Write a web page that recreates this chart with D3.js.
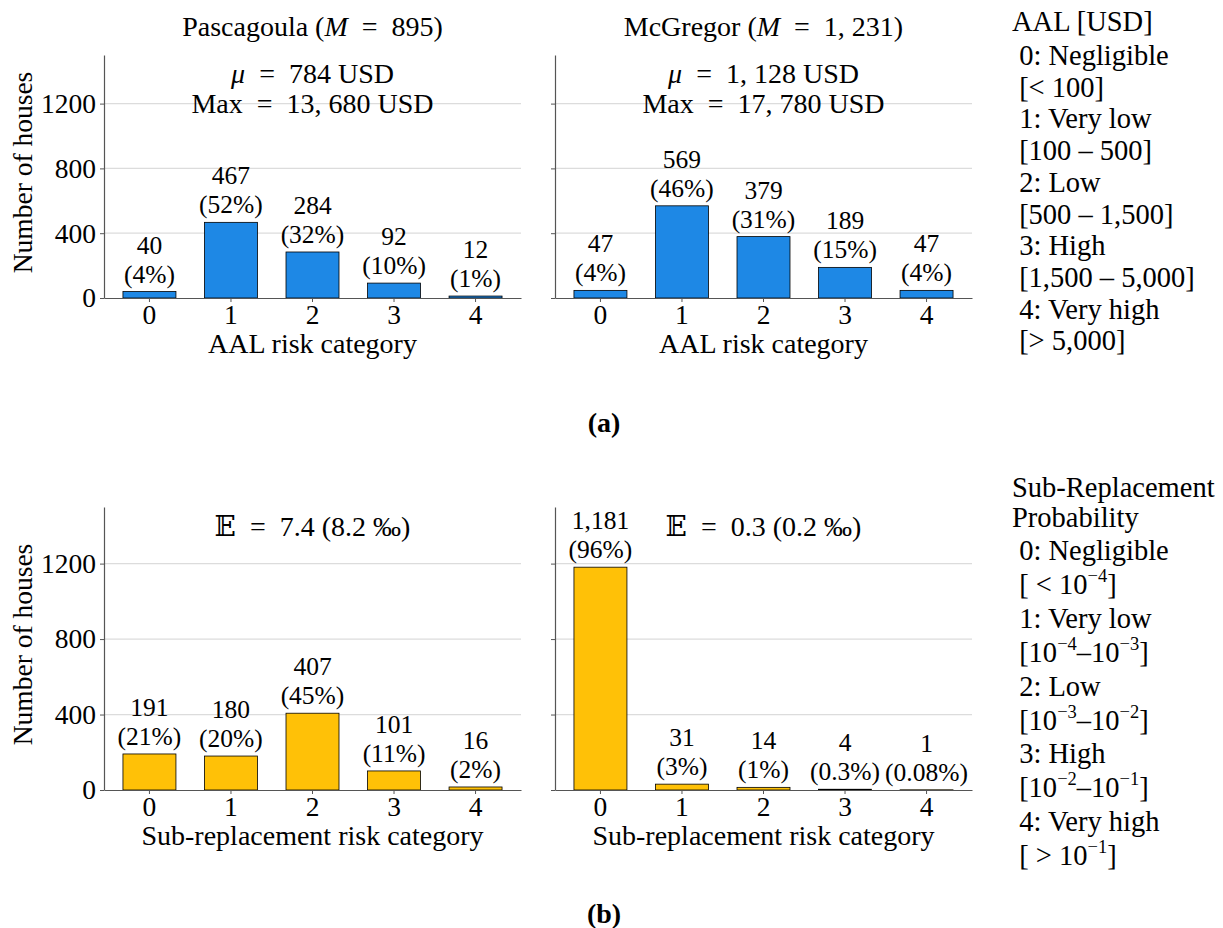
<!DOCTYPE html>
<html>
<head>
	<meta charset="utf-8">
	<title>AAL and sub-replacement risk categories</title>
	<script src="https://d3js.org/d3.v7.min.js"></script>
	<style>
		body { margin: 0; background: #fff; }
		text { font-family: "Liberation Serif", "DejaVu Serif", serif; fill: #000; }
	</style>
</head>
<body>
	<svg width="1223" height="928" id="chart"></svg>
<script>
	// values
	var categories = [0, 1, 2, 3, 4]
	var yTicks = [0, 400, 800, 1200]
	var aalPascagoula = [40, 467, 284, 92, 12]
	var aalPascagoulaPct = ["4%", "52%", "32%", "10%", "1%"]
	var aalMcGregor = [47, 569, 379, 189, 47]
	var aalMcGregorPct = ["4%", "46%", "31%", "15%", "4%"]
	var subPascagoula = [191, 180, 407, 101, 16]
	var subPascagoulaPct = ["21%", "20%", "45%", "11%", "2%"]
	var subMcGregor = [1181, 31, 14, 4, 1]
	var subMcGregorPct = ["96%", "3%", "1%", "0.3%", "0.08%"]

	var aalLegend = [
		[["AAL [USD]"]],
		[[" 0: Negligible"]], [[" [< 100]"]],
		[[" 1: Very low"]], [[" [100 – 500]"]],
		[[" 2: Low"]], [[" [500 – 1,500]"]],
		[[" 3: High"]], [[" [1,500 – 5,000]"]],
		[[" 4: Very high"]], [[" [> 5,000]"]]
	]
	var subLegend = [
		[["Sub-Replacement"]], [["Probability"]],
		[[" 0: Negligible"]], [[" [ < 10"], ["−4", "s"], ["]"]],
		[[" 1: Very low"]], [[" [10"], ["−4", "s"], ["–10"], ["−3", "s"], ["]"]],
		[[" 2: Low"]], [[" [10"], ["−3", "s"], ["–10"], ["−2", "s"], ["]"]],
		[[" 3: High"]], [[" [10"], ["−2", "s"], ["–10"], ["−1", "s"], ["]"]],
		[[" 4: Very high"]], [[" [ > 10"], ["−1", "s"], ["]"]]
	]

	var svg = d3.select("#chart")
	var fs = 27.5      // ticks, y label
	var fsX = 28       // x labels
	var fsBar = 25.5   // bar annotations
	var fsMath = 28    // titles and notes
	var eq = "\u2002=\u2002"

	// text made of plain / italic / superscript / bold pieces
	function rich(sel, x, y, parts, anchor, size) {
		var t = sel.append("text")
			.attr("x", x).attr("y", y)
			.attr("text-anchor", anchor || "middle")
			.attr("font-size", size || fs)
			.attr("xml:space", "preserve")
		var shift = 0
		parts.forEach(function(p) {
			var s = t.append("tspan").text(p[0])
			var target = p[1] === "s" ? -12 : 0
			if (target !== shift) s.attr("dy", target - shift)
			shift = target
			if (p[1] === "s") s.attr("font-size", 18.5)
			if (p[1] === "i") s.attr("font-style", "italic")
			if (p[1] === "b") s.attr("font-weight", "bold")
		})
		return t
	}

	var cols = [{x0: 104, x1: 521}, {x0: 555, x1: 972}]
	var rows = [{y0: 55, y1: 298}, {y0: 507, y1: 790}]

	var panels = [
		{data: aalPascagoula, pct: aalPascagoulaPct, col: 0, row: 0, color: "#1e88e5", xlabel: "AAL risk category", sep: ""},
		{data: aalMcGregor, pct: aalMcGregorPct, col: 1, row: 0, color: "#1e88e5", xlabel: "AAL risk category", sep: ""},
		{data: subPascagoula, pct: subPascagoulaPct, col: 0, row: 1, color: "#ffc107", xlabel: "Sub-replacement risk category", sep: ","},
		{data: subMcGregor, pct: subMcGregorPct, col: 1, row: 1, color: "#ffc107", xlabel: "Sub-replacement risk category", sep: ","}
	]

	panels.forEach(function(p) {
		var c = cols[p.col], r = rows[p.row]
		var x = d3.scaleBand().domain(categories).range([c.x0, c.x1])
			.paddingInner(0.35).paddingOuter(0.2325)
		var y = d3.scaleLinear().domain([0, 1500]).range([r.y1, r.y0])
		var g = svg.append("g")

		// grid
		g.selectAll(".grid").data(yTicks.filter(function(d) { return d > 0 }))
			.enter().append("line")
			.attr("x1", c.x0).attr("x2", c.x1)
			.attr("y1", function(d) { return y(d) }).attr("y2", function(d) { return y(d) })
			.attr("stroke", "#dcdcdc").attr("stroke-width", 1.2)

		// bars
		g.selectAll("rect").data(p.data).enter().append("rect")
			.attr("x", function(d, i) { return x(categories[i]) })
			.attr("width", x.bandwidth())
			.attr("y", function(d) { return y(d) })
			.attr("height", function(d) { return y(0) - y(d) })
			.attr("fill", p.color)
			.attr("stroke", "#000").attr("stroke-width", 0.8)

		// bar labels
		var fmt = p.sep ? d3.format(",") : function(v) { return String(v) }
		p.data.forEach(function(d, i) {
			var cx = x(categories[i]) + x.bandwidth() / 2
			g.append("text").attr("x", cx).attr("y", y(d) - 38)
				.attr("text-anchor", "middle").attr("font-size", fsBar).text(fmt(d))
			g.append("text").attr("x", cx).attr("y", y(d) - 9)
				.attr("text-anchor", "middle").attr("font-size", fsBar).text("(" + p.pct[i] + ")")
		})

		// axes
		var ay = g.append("g").attr("transform", "translate(" + c.x0 + ",0)")
			.call(d3.axisLeft(y).tickValues(yTicks).tickSize(4).tickSizeOuter(0).tickPadding(4)
				.tickFormat(p.col === 0 ? d3.format("d") : ""))
		var ax = g.append("g").attr("transform", "translate(0," + r.y1 + ")")
			.call(d3.axisBottom(x).tickSize(4).tickSizeOuter(0).tickPadding(2))
		;[ay, ax].forEach(function(a) {
			a.attr("font-family", null).attr("font-size", fs)
			a.select(".domain").attr("stroke", "#555").attr("stroke-width", 1.2)
			a.selectAll(".tick line").attr("stroke", "#555")
			a.selectAll(".tick text").attr("fill", "#000")
		})

		g.append("text").attr("x", (c.x0 + c.x1) / 2).attr("y", r.y1 + 55)
			.attr("text-anchor", "middle").attr("font-size", fsX).text(p.xlabel)

		if (p.col === 0) {
			g.append("text")
				.attr("transform", "translate(32," + ((r.y0 + r.y1) / 2 - 4) + ") rotate(-90)")
				.attr("text-anchor", "middle").attr("font-size", fs).text("Number of houses")
		}
	})

	// titles and notes
	var mid0 = (cols[0].x0 + cols[0].x1) / 2, mid1 = (cols[1].x0 + cols[1].x1) / 2
	rich(svg, mid0, 36, [["Pascagoula ("], ["M", "i"], [eq + "895)"]], "middle", fsMath)
	rich(svg, mid1, 36, [["McGregor ("], ["M", "i"], [eq + "1, 231)"]], "middle", fsMath)
	rich(svg, mid0, 83, [["μ", "i"], [eq + "784 USD"]], "middle", fsMath)
	rich(svg, mid0, 113, [["Max" + eq + "13, 680 USD"]], "middle", fsMath)
	rich(svg, mid1, 83, [["μ", "i"], [eq + "1, 128 USD"]], "middle", fsMath)
	rich(svg, mid1, 113, [["Max" + eq + "17, 780 USD"]], "middle", fsMath)
	rich(svg, mid0, 536, [["𝔼"], [eq + "7.4 (8.2 ‰)"]], "middle", fsMath)
	rich(svg, mid1, 536, [["𝔼"], [eq + "0.3 (0.2 ‰)"]], "middle", fsMath)

	rich(svg, 604, 432, [["(a)", "b"]], "middle", 28)
	rich(svg, 604, 923, [["(b)", "b"]], "middle", 28)

	// legends
	aalLegend.forEach(function(line, i) {
		var yy = i === 0 ? 31 : 65 + (i - 1) * 31.7
		rich(svg, 1012, yy, line, "start", 28.5)
	})
	subLegend.forEach(function(line, i) {
		var yy = i < 2 ? 497 + i * 30 : 560 + (i - 2) * 33.9
		rich(svg, 1012, yy, line, "start", 28.5)
	})
</script>
</body>
</html>
